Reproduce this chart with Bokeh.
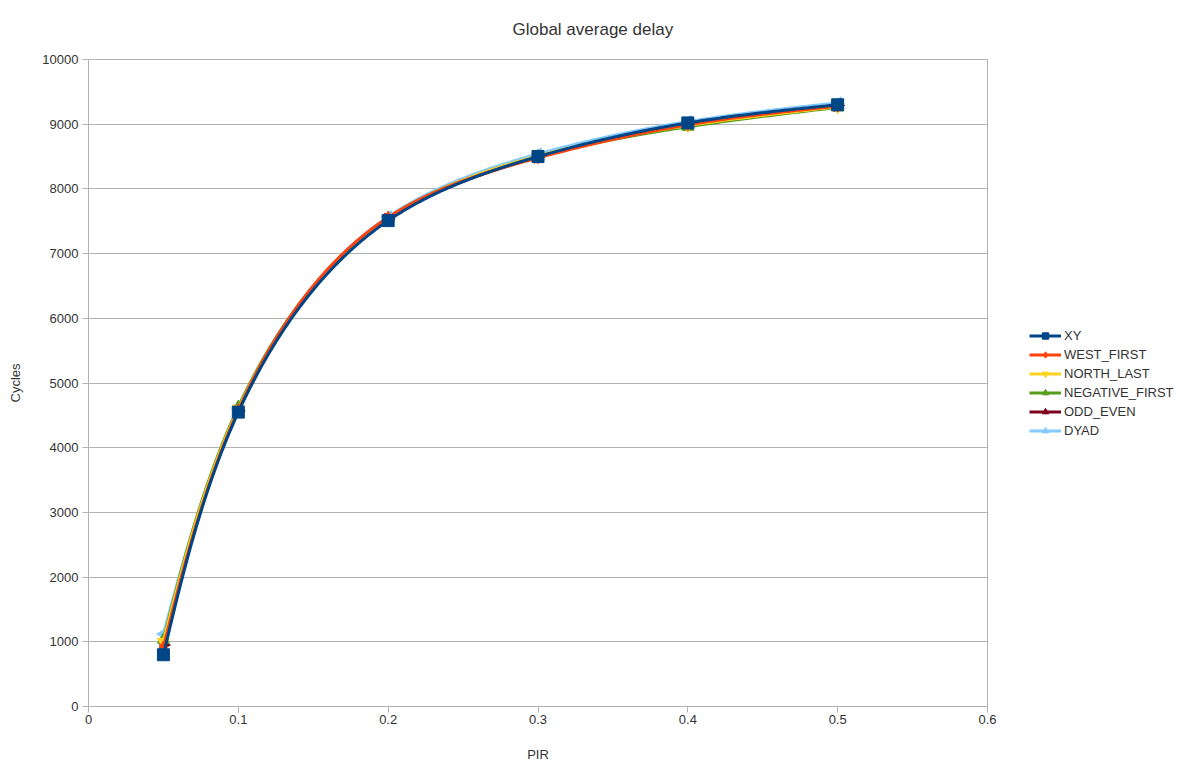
import numpy as np
from bokeh.plotting import figure
from bokeh.models import Legend, LegendItem, FixedTicker, Range1d
from bokeh.embed import file_html
from bokeh.resources import INLINE

# packet injection rate on the x axis
pir = [0.05, 0.1, 0.2, 0.3, 0.4, 0.5]

# average delay in cycles for each routing algorithm
xy = [800, 4550, 7510, 8500, 9020, 9300]
west_first = [920, 4580, 7560, 8480, 8990, 9280]
north_last = [1000, 4600, 7540, 8510, 8980, 9270]
negative_first = [1030, 4630, 7550, 8500, 8960, 9260]
odd_even = [950, 4570, 7530, 8490, 9000, 9290]
dyad = [1120, 4610, 7570, 8540, 9040, 9330]

x_ticks = [0, 0.1, 0.2, 0.3, 0.4, 0.5, 0.6]
x_tick_labels = ["0", "0.1", "0.2", "0.3", "0.4", "0.5", "0.6"]
y_ticks = [0, 1000, 2000, 3000, 4000, 5000, 6000, 7000, 8000, 9000, 10000]

series = [
    ("XY", xy, "#004586", "square", 0),
    ("WEST_FIRST", west_first, "#ff420e", "diamond", 0),
    ("NORTH_LAST", north_last, "#ffd320", "inverted_triangle", 0),
    ("NEGATIVE_FIRST", negative_first, "#579d1c", "triangle", 0),
    ("ODD_EVEN", odd_even, "#7e0021", "triangle", -np.pi / 2),
    ("DYAD", dyad, "#83caff", "triangle", np.pi / 2),
]

X0, X1 = 0.0, 0.6
Y0, Y1 = 0.0, 10000.0
FRAME_W, FRAME_H = 899, 647


def _natural(t, v):
    """Second derivatives of a natural cubic spline v(t)."""
    k = len(t)
    h = np.diff(t)
    A = np.zeros((k, k))
    b = np.zeros(k)
    A[0, 0] = A[-1, -1] = 1.0
    for i in range(1, k - 1):
        A[i, i - 1] = h[i - 1]
        A[i, i] = 2 * (h[i - 1] + h[i])
        A[i, i + 1] = h[i]
        b[i] = 6 * ((v[i + 1] - v[i]) / h[i] - (v[i] - v[i - 1]) / h[i - 1])
    return np.linalg.solve(A, b)


def _eval(t, v, M, i, s):
    h = t[i + 1] - t[i]
    a = t[i + 1] - s
    c = s - t[i]
    return (M[i] * a ** 3 + M[i + 1] * c ** 3) / (6 * h) \
        + (v[i] / h - M[i] * h / 6) * a \
        + (v[i + 1] / h - M[i + 1] * h / 6) * c


def smooth_line(xs, ys, n=80):
    """Parametric cubic spline through the points, parameterised by
    chord length measured on screen, then mapped back to data units."""
    px = (np.asarray(xs, float) - X0) / (X1 - X0) * FRAME_W
    py = (np.asarray(ys, float) - Y0) / (Y1 - Y0) * FRAME_H
    t = np.concatenate([[0.0], np.cumsum(np.hypot(np.diff(px), np.diff(py)))])
    Mx = _natural(t, px)
    My = _natural(t, py)
    ox, oy = [], []
    for i in range(len(t) - 1):
        s = np.linspace(t[i], t[i + 1], n, endpoint=(i == len(t) - 2))
        ox.extend(_eval(t, px, Mx, i, s))
        oy.extend(_eval(t, py, My, i, s))
    ox = np.array(ox) / FRAME_W * (X1 - X0) + X0
    oy = np.array(oy) / FRAME_H * (Y1 - Y0) + Y0
    return ox, oy


p = figure(
    frame_width=FRAME_W, frame_height=FRAME_H,
    output_backend="svg", toolbar_location=None,
    x_range=Range1d(X0, X1), y_range=Range1d(Y0, Y1),
    min_border_left=88, min_border_right=200,
    min_border_top=59, min_border_bottom=59,
    title="Global average delay",
)

# title centred over the whole page, pushed up as far as the top border allows
p.title.text_font = "Liberation Sans"
p.title.text_font_size = "17px"
p.title.text_font_style = "normal"
p.title.text_color = "#333333"
p.title.align = "left"
p.title.offset = 424
p.title.vertical_align = "top"
p.title.standoff = 38

p.outline_line_color = "#b3b3b3"
p.outline_line_width = 1
p.background_fill_color = "white"
p.border_fill_color = "white"

p.xgrid.grid_line_color = None
p.ygrid.grid_line_color = "#b3b3b3"
p.ygrid.grid_line_width = 1

p.xaxis.ticker = FixedTicker(ticks=x_ticks)
p.xaxis.major_label_overrides = {t: s for t, s in zip(x_ticks, x_tick_labels)}
p.yaxis.ticker = FixedTicker(ticks=y_ticks)

for ax in (p.xaxis, p.yaxis):
    ax.axis_line_color = "#b3b3b3"
    ax.major_tick_line_color = "#b3b3b3"
    ax.major_tick_out = 6
    ax.major_tick_in = 0
    ax.minor_tick_line_color = None
    ax.major_label_text_font = "Liberation Sans"
    ax.major_label_text_font_size = "13px"
    ax.major_label_text_color = "#333333"
    ax.axis_label_text_font = "Liberation Sans"
    ax.axis_label_text_font_size = "13px"
    ax.axis_label_text_font_style = "normal"
    ax.axis_label_text_color = "#333333"

p.xaxis.axis_label = "PIR"
p.xaxis.major_label_standoff = 2
p.xaxis.axis_label_standoff = 20
p.yaxis.axis_label = "Cycles"
p.yaxis.major_label_standoff = 4
p.yaxis.axis_label_standoff = 16

items = {}
# draw the last series first so XY ends up on top
for name, vals, color, marker, angle in reversed(series):
    sx, sy = smooth_line(pir, vals)
    ln = p.line(sx, sy, line_color=color, line_width=3)
    mk = p.scatter(pir, vals, marker=marker, size=12, angle=angle,
                   fill_color=color, line_color=color)
    items[name] = LegendItem(label=name, renderers=[ln, mk])

legend = Legend(
    items=[items[s[0]] for s in series],
    location="center_left",
    margin=42,
    border_line_color=None,
    background_fill_alpha=0,
    label_text_font="Liberation Sans",
    label_text_font_size="13px",
    label_text_color="#333333",
    glyph_width=32, glyph_height=16,
    label_height=16, spacing=3, label_standoff=3,
    padding=0,
)
p.add_layout(legend, "right")

open("out.html", "w").write(file_html(p, INLINE))
